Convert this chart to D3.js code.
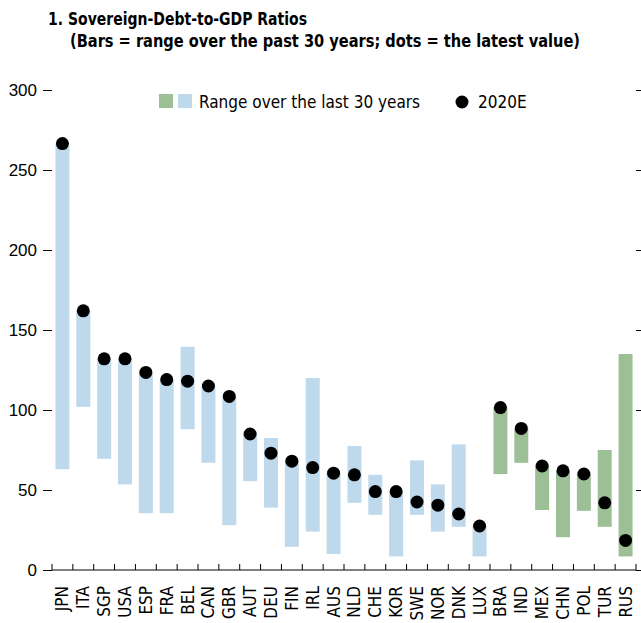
<!doctype html>
<html>
<head>
  <meta charset="utf-8">
  <script src="https://d3js.org/d3.v7.min.js"></script>
  <style>
  body {
    margin: 0;
    background: #fff;
  }

  svg {
    font-family: "Liberation Sans Narrow", "DejaVu Sans Condensed", "Roboto Condensed", sans-serif;
    display: block;
  }

  .title {
    font-weight: bold;
    font-size: 18px;
    fill: #000;
  }

  .axis text {
    font-size: 17px;
    fill: #000;
  }

  .axis line {
    stroke: #000;
  }

  .axis path {
    display: none;
  }

  .legend text {
    font-size: 17px;
    fill: #000;
  }
  </style>
</head>
<body>
  <script>
    // countries in the order shown, advanced economies first then emerging markets
    var countries = ["JPN", "ITA", "SGP", "USA", "ESP", "FRA", "BEL", "CAN", "GBR", "AUT",
                     "DEU", "FIN", "IRL", "AUS", "NLD", "CHE", "KOR", "SWE", "NOR", "DNK",
                     "LUX", "BRA", "IND", "MEX", "CHN", "POL", "TUR", "RUS"];
    var emerging = ["BRA", "IND", "MEX", "CHN", "POL", "TUR", "RUS"];

    // lowest and highest debt ratio over the past 30 years (% of GDP)
    var low = [63, 102, 69.5, 53.5, 35.5, 35.5, 88, 67, 28, 55.5,
               39, 14.5, 24, 10, 42, 34.5, 8.5, 34.5, 24, 27,
               8.5, 60, 67, 37.5, 20.5, 37, 27, 8.5];
    var high = [266, 162, 132, 132, 123, 119, 139.5, 115, 108.5, 85,
                82.5, 68, 120, 60.5, 77.5, 59.5, 48.5, 68.5, 53.5, 78.5,
                27.5, 101.5, 88.5, 65, 62, 60, 75, 135];
    // 2020 estimate
    var latest = [266.5, 162, 132, 132, 123.5, 119, 118, 115, 108.5, 85,
                  73, 68, 64, 60.5, 59.5, 49, 49, 42.5, 40.5, 35,
                  27.5, 101.5, 88.5, 65, 62, 60, 42, 18.5];

    var yTicks = [0, 50, 100, 150, 200, 250, 300];

    var blue = "#bed8ec",
        green = "#9dbf96";

    var width = 641,
        height = 623,
        plotLeft = 52,
        plotRight = 636,
        plotTop = 90,
        plotBottom = 570;

    var data = countries.map(function(c, i){
      return {country: c, low: low[i], high: high[i], latest: latest[i]};
    });

    var x = d3.scaleBand()
        .domain(countries)
        .range([plotLeft, plotRight])
        .paddingInner(0.33)
        .paddingOuter(0.165);

    var y = d3.scaleLinear()
        .domain([0, 300])
        .range([plotBottom, plotTop]);

    var svg = d3.select("body").append("svg")
        .attr("width", width)
        .attr("height", height);

    // title (squeezed to the width of the condensed original)
    svg.append("text")
        .attr("class", "title")
        .attr("x", 48)
        .attr("y", 25)
        .attr("textLength", 259)
        .attr("lengthAdjust", "spacingAndGlyphs")
        .text("1. Sovereign-Debt-to-GDP Ratios");
    svg.append("text")
        .attr("class", "title")
        .attr("x", 70)
        .attr("y", 47)
        .attr("textLength", 510)
        .attr("lengthAdjust", "spacingAndGlyphs")
        .text("(Bars = range over the past 30 years; dots = the latest value)");

    // bars
    svg.selectAll(".bar")
        .data(data)
      .enter().append("rect")
        .attr("class", "bar")
        .attr("x", function(d){return x(d.country);})
        .attr("width", x.bandwidth())
        .attr("y", function(d){return y(d.high);})
        .attr("height", function(d){return y(d.low) - y(d.high);})
        .style("fill", function(d){return emerging.indexOf(d.country) >= 0 ? green : blue;});

    // y axes
    svg.append("g")
        .attr("class", "axis")
        .attr("transform", "translate(" + plotLeft + ",0)")
        .call(d3.axisLeft(y).tickValues(yTicks).tickSize(9).tickPadding(6));

    svg.append("g")
        .attr("class", "axis")
        .attr("transform", "translate(" + plotRight + ",0)")
        .call(d3.axisRight(y).tickValues(yTicks).tickSize(5).tickFormat(""));

    // x axis: baseline, boundary ticks pointing up, rotated labels
    var step = x.step(),
        gap = (step - x.bandwidth()) / 2;
    var xAxis = svg.append("g").attr("class", "axis");

    xAxis.append("line")
        .attr("x1", plotLeft)
        .attr("x2", plotRight)
        .attr("y1", y(0))
        .attr("y2", y(0));

    xAxis.selectAll(".xtick")
        .data(countries.concat(["end"]))
      .enter().append("line")
        .attr("class", "xtick")
        .attr("x1", function(d){return d === "end" ? plotRight : x(d) - gap;})
        .attr("x2", function(d){return d === "end" ? plotRight : x(d) - gap;})
        .attr("y1", y(0))
        .attr("y2", y(0) - 6);

    xAxis.selectAll(".xlabel")
        .data(countries)
      .enter().append("text")
        .attr("class", "xlabel")
        .attr("text-anchor", "end")
        .attr("dy", "0.35em")
        .attr("transform", function(d){
          return "translate(" + (x(d) + x.bandwidth() / 2) + "," + (y(0) + 16) + ") rotate(-90)";
        })
        .text(function(d){return d;});

    // dots
    svg.selectAll(".dot")
        .data(data)
      .enter().append("circle")
        .attr("class", "dot")
        .attr("cx", function(d){return x(d.country) + x.bandwidth() / 2;})
        .attr("cy", function(d){return y(d.latest);})
        .attr("r", 6.5)
        .style("fill", "#000");

    // legend
    var legend = svg.append("g").attr("class", "legend");
    legend.append("rect")
        .attr("x", 159).attr("y", 94)
        .attr("width", 14).attr("height", 14)
        .style("fill", green);
    legend.append("rect")
        .attr("x", 178).attr("y", 94)
        .attr("width", 14).attr("height", 14)
        .style("fill", blue);
    legend.append("text")
        .attr("x", 199)
        .attr("y", 108)
        .text("Range over the last 30 years");
    legend.append("circle")
        .attr("cx", 462)
        .attr("cy", 102)
        .attr("r", 6.5)
        .style("fill", "#000");
    legend.append("text")
        .attr("x", 478)
        .attr("y", 108)
        .text("2020E");
  </script>
</body>
</html>
